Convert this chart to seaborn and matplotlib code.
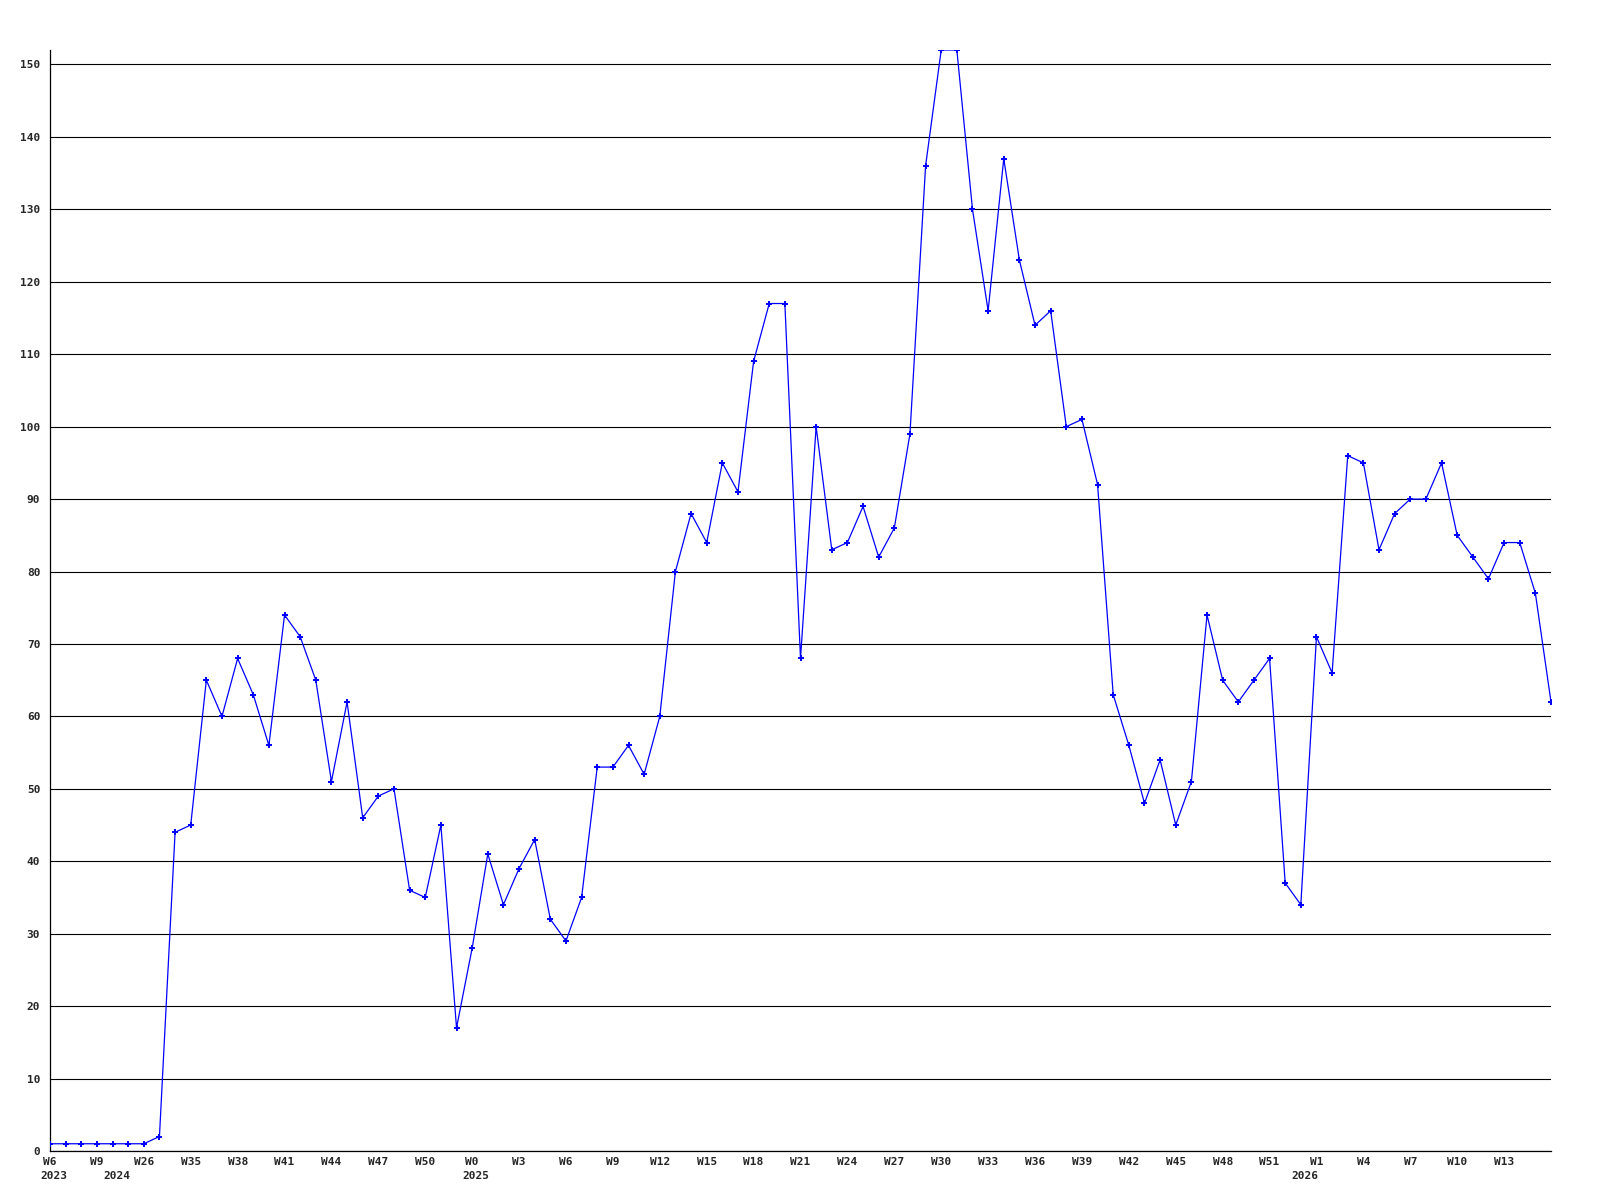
import pandas as pd
import matplotlib
matplotlib.use("Agg")
import matplotlib.pyplot as plt
import matplotlib.transforms as mtransforms
import seaborn as sns

# Weekly counts, one value per week shown on the chart
values = [1, 1, 1, 1, 1, 1, 1, 2, 44, 45,
          65, 60, 68, 63, 56, 74, 71, 65, 51, 62,
          46, 49, 50, 36, 35, 45, 17, 28, 41, 34,
          39, 43, 32, 29, 35, 53, 53, 56, 52, 60,
          80, 88, 84, 95, 91, 109, 117, 117, 68, 100,
          83, 84, 89, 82, 86, 99, 136, 152, 152, 130,
          116, 137, 123, 114, 116, 100, 101, 92, 63, 56,
          48, 54, 45, 51, 74, 65, 62, 65, 68, 37,
          34, 71, 66, 96, 95, 83, 88, 90, 90, 95,
          85, 82, 79, 84, 84, 77, 62]

# x tick labels, one every third week
week_labels = ["W6", "W9", "W26", "W35", "W38", "W41", "W44", "W47", "W50",
               "W0", "W3", "W6", "W9", "W12", "W15", "W18", "W21", "W24",
               "W27", "W30", "W33", "W36", "W39", "W42", "W45", "W48", "W51",
               "W1", "W4", "W7", "W10", "W13"]
year_labels = ["2023", "2024", "2025", "2026"]
year_start = [0, 4, 27, 80]

df = pd.DataFrame({"idx": range(len(values)), "count": values})

sns.set_style("white")
plt.rcParams["font.family"] = ["DejaVu Sans Mono"]
plt.rcParams["font.weight"] = "bold"

fig = plt.figure(figsize=(16, 12), dpi=100)
ax = fig.add_axes([50 / 1600, 49 / 1200, 1501 / 1600, 1101 / 1200])

sns.lineplot(data=df, x="idx", y="count", ax=ax, color="#0000ff",
             linewidth=0.9, marker="P", markersize=4.5,
             markeredgewidth=0, zorder=3)

ax.set_xlim(0, len(values) - 1)
ax.set_ylim(0, max(values))

ax.set_yticks(range(0, 151, 10))
ax.yaxis.grid(True, color="black", linewidth=0.8)
ax.xaxis.grid(False)
ax.set_axisbelow(True)

ax.set_xticks(range(0, 3 * len(week_labels), 3))
ax.set_xticklabels(week_labels)

for s in ["top", "right"]:
    ax.spines[s].set_visible(False)
for s in ["left", "bottom"]:
    ax.spines[s].set_color("black")
    ax.spines[s].set_linewidth(0.9)

ax.tick_params(axis="y", length=0, pad=7, labelsize=8)
ax.tick_params(axis="x", length=0, pad=4.5, labelsize=8)
for lab in ax.get_xticklabels() + ax.get_yticklabels():
    lab.set_fontweight("bold")

trans = mtransforms.blended_transform_factory(ax.transData, ax.transAxes)
for lab, pos in zip(year_labels, year_start):
    ax.text(pos + 0.25, -0.0185, lab, transform=trans, ha="center", va="top",
            fontsize=8, fontweight="bold")

ax.set_xlabel("")
ax.set_ylabel("")

fig.savefig("out.png", dpi=100)
